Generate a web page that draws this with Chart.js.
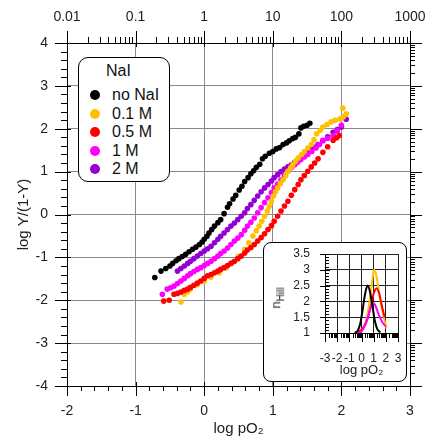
<!DOCTYPE html>
<html>
<head>
<meta charset="utf-8">
<script src="https://cdn.jsdelivr.net/npm/chart.js@4.4.0/dist/chart.umd.min.js"></script>
<style>
  body { margin: 0; background: #fff; font-family: "Liberation Sans", Arial, sans-serif; }
  #wrap { position: relative; width: 429px; height: 442px; }
  #main { position: absolute; left: 0; top: 0; }
  #legend { position: absolute; left: 78px; top: 57px; width: 92px; height: 125px; box-sizing: border-box;
            border: 1px solid #000; border-radius: 10px; background: #fff; color: #111; }
  #legend .ttl { position: absolute; left: 27px; top: 3px; font-size: 16px; line-height: 20px; }
  #legend .row { position: absolute; left: 0; height: 18px; line-height: 18px; font-size: 16px; white-space: nowrap; }
  #legend .dot { position: absolute; left: 11px; top: 4px; width: 10px; height: 10px; border-radius: 50%; }
  #legend .txt { position: absolute; left: 33px; top: 0; }
  #inset { position: absolute; left: 263px; top: 242px; width: 144px; height: 140px; box-sizing: border-box;
           border: 1px solid #000; border-radius: 8px; background: #fff; }
  #inset canvas { position: absolute; left: 0; top: 0; }
  #nhill { position: absolute; left: 13px; top: 55px; transform: translate(-50%, -50%) rotate(-90deg);
           font-size: 13px; white-space: nowrap; color: #222; }
  #nhill sub { font-size: 10px; }
</style>
</head>
<body>
<div id="wrap">
  <canvas id="main" width="429" height="442"></canvas>
  <div id="legend"></div>
  <div id="inset">
    <canvas id="small" width="142" height="138"></canvas>
    <div id="nhill">n<sub>Hill</sub></div>
  </div>
</div>
<script>
// series names / colours
var names = ["no NaI", "0.1 M", "0.5 M", "1 M", "2 M"];
var colors = ["#000000", "#FFC000", "#FF0000", "#FF00FF", "#9400D3"];

// log pO2 / log Y/(1-Y)
var noNaI_x = [-0.72, -0.63, -0.56, -0.50, -0.46, -0.41, -0.37, -0.32, -0.27, -0.22, -0.17, -0.12, -0.07, -0.03, 0.00, 0.04, 0.07, 0.11, 0.15, 0.20, 0.24, 0.29, 0.34, 0.37, 0.42, 0.46, 0.51, 0.55, 0.59, 0.64, 0.68, 0.72, 0.76, 0.81, 0.85, 0.89, 0.95, 1.00, 1.05, 1.10, 1.15, 1.20, 1.24, 1.29, 1.33, 1.38, 1.41, 1.45, 1.50, 1.54];
var noNaI_y = [-1.47, -1.32, -1.26, -1.20, -1.14, -1.08, -1.03, -0.98, -0.93, -0.87, -0.81, -0.76, -0.70, -0.64, -0.58, -0.51, -0.43, -0.35, -0.27, -0.19, -0.12, 0.02, 0.17, 0.25, 0.36, 0.45, 0.57, 0.66, 0.77, 0.86, 0.95, 1.02, 1.10, 1.17, 1.30, 1.36, 1.43, 1.47, 1.53, 1.56, 1.63, 1.67, 1.72, 1.77, 1.80, 1.88, 2.02, 2.06, 2.08, 2.13];

var m01_x = [-0.34, -0.29, -0.24, -0.20, -0.10, 0.00, 0.10, 0.22, 0.32, 0.41, 0.50, 0.59, 0.65, 0.71, 0.76, 0.80, 0.84, 0.88, 0.92, 0.95, 0.98, 1.01, 1.04, 1.07, 1.11, 1.15, 1.19, 1.22, 1.26, 1.29, 1.33, 1.37, 1.42, 1.46, 1.51, 1.56, 1.60, 1.64, 1.69, 1.73, 1.79, 1.85, 1.91, 1.98, 2.03, 2.07, 2.02];
var m01_y = [-2.04, -1.86, -1.80, -1.74, -1.64, -1.55, -1.46, -1.36, -1.25, -1.12, -0.98, -0.81, -0.66, -0.50, -0.38, -0.27, -0.16, -0.04, 0.08, 0.19, 0.31, 0.43, 0.53, 0.62, 0.72, 0.81, 0.91, 1.01, 1.09, 1.16, 1.24, 1.32, 1.40, 1.47, 1.55, 1.63, 1.74, 1.88, 1.96, 2.04, 2.10, 2.16, 2.20, 2.23, 2.28, 2.35, 2.48];

var m05_x = [-0.59, -0.51, -0.44, -0.39, -0.34, -0.29, -0.24, -0.20, -0.15, -0.10, -0.05, 0.00, 0.05, 0.10, 0.15, 0.20, 0.24, 0.29, 0.34, 0.39, 0.44, 0.49, 0.54, 0.59, 0.63, 0.68, 0.73, 0.78, 0.83, 0.88, 0.93, 0.98, 1.02, 1.07, 1.12, 1.17, 1.22, 1.27, 1.32, 1.37, 1.41, 1.46, 1.51, 1.56, 1.61, 1.66, 1.73, 1.80, 1.88, 1.93, 1.97];
var m05_y = [-2.02, -2.00, -1.86, -1.84, -1.81, -1.77, -1.74, -1.70, -1.65, -1.60, -1.55, -1.49, -1.43, -1.40, -1.36, -1.32, -1.28, -1.24, -1.19, -1.14, -1.09, -1.03, -0.97, -0.90, -0.83, -0.77, -0.70, -0.62, -0.54, -0.45, -0.35, -0.26, -0.16, -0.04, 0.08, 0.20, 0.31, 0.45, 0.58, 0.70, 0.81, 0.91, 1.01, 1.11, 1.20, 1.30, 1.45, 1.58, 1.73, 1.79, 1.84];

var m1_x = [-0.61, -0.54, -0.49, -0.44, -0.39, -0.34, -0.29, -0.24, -0.20, -0.15, -0.10, -0.05, 0.00, 0.05, 0.10, 0.15, 0.20, 0.24, 0.29, 0.34, 0.39, 0.44, 0.49, 0.54, 0.59, 0.63, 0.68, 0.73, 0.78, 0.83, 0.88, 0.93, 0.98, 1.02, 1.07, 1.12, 1.17, 1.22, 1.27, 1.32, 1.36, 1.41, 1.46, 1.51, 1.57, 1.63, 1.68, 1.73, 1.80, 1.88, 1.94, 2.00];
var m1_y = [-1.86, -1.74, -1.71, -1.67, -1.61, -1.55, -1.49, -1.43, -1.38, -1.33, -1.28, -1.24, -1.19, -1.14, -1.09, -1.03, -0.97, -0.91, -0.85, -0.78, -0.70, -0.62, -0.55, -0.47, -0.37, -0.27, -0.18, -0.08, 0.04, 0.16, 0.28, 0.39, 0.51, 0.62, 0.71, 0.81, 0.91, 1.01, 1.09, 1.16, 1.22, 1.28, 1.34, 1.40, 1.47, 1.55, 1.63, 1.73, 1.78, 1.84, 1.95, 2.08];

var m2_x = [-0.39, -0.34, -0.29, -0.24, -0.20, -0.15, -0.10, -0.05, 0.00, 0.05, 0.10, 0.15, 0.20, 0.24, 0.29, 0.34, 0.39, 0.44, 0.49, 0.54, 0.59, 0.63, 0.68, 0.73, 0.78, 0.83, 0.88, 0.93, 0.98, 1.02, 1.07, 1.12, 1.17, 1.22, 1.27, 1.32, 1.37, 1.41, 1.46, 1.51, 1.56, 1.61, 1.66, 1.73, 1.80, 1.88, 1.94, 2.00, 2.07];
var m2_y = [-1.32, -1.26, -1.20, -1.14, -1.09, -1.03, -0.97, -0.91, -0.85, -0.80, -0.74, -0.66, -0.58, -0.51, -0.43, -0.35, -0.27, -0.20, -0.12, -0.04, 0.04, 0.14, 0.23, 0.33, 0.43, 0.53, 0.62, 0.70, 0.78, 0.86, 0.93, 1.00, 1.06, 1.11, 1.16, 1.22, 1.28, 1.34, 1.40, 1.46, 1.51, 1.57, 1.63, 1.72, 1.81, 1.92, 1.98, 2.04, 2.22];

// inset: nHill vs log pO2
var hill_black_x = [-0.55, -0.30, -0.10, 0.10, 0.30, 0.50, 0.70, 0.90, 1.10, 1.30, 1.55];
var hill_black_y = [1.00, 1.08, 1.30, 1.75, 2.25, 2.50, 2.30, 1.85, 1.38, 1.12, 1.02];
var hill_orange_x = [-0.30, 0.00, 0.30, 0.50, 0.70, 0.90, 1.03, 1.20, 1.40, 1.60, 1.80, 2.05];
var hill_orange_y = [1.00, 1.08, 1.30, 1.60, 2.10, 2.70, 3.00, 2.85, 2.40, 1.95, 1.55, 1.15];
var hill_red_x = [-0.55, -0.20, 0.20, 0.50, 0.80, 1.00, 1.25, 1.45, 1.65, 1.90];
var hill_red_y = [1.00, 1.05, 1.20, 1.45, 1.90, 2.25, 2.42, 2.25, 1.90, 1.50];
var hill_magenta_x = [-0.40, 0.00, 0.30, 0.60, 0.90, 1.10, 1.40, 1.70, 2.00];
var hill_magenta_y = [1.00, 1.05, 1.25, 1.60, 1.95, 1.90, 1.60, 1.35, 1.20];

var bottomLabels = [-2, -1, 0, 1, 2, 3];
var topLabels = ["0.01", "0.1", "1", "10", "100", "1000"];
var leftLabels = [-4, -3, -2, -1, 0, 1, 2, 3, 4];
var hillLabels = [1, 1.5, 2, 2.5, 3, 3.5];

function pts(xs, ys) { return xs.map(function (x, i) { return { x: x, y: ys[i] }; }); }
function linMinors(a, b, step) {
  var out = [];
  for (var v = a; v <= b + 1e-9; v += step) {
    var r = Math.round(v * 10) / 10;
    if (Math.abs(r - Math.round(r)) > 1e-6) out.push(r);
  }
  return out;
}
function logMinors(a, b) {
  var out = [];
  for (var n = a; n < b; n++) for (var k = 2; k <= 9; k++) out.push(n + Math.log10(k));
  return out;
}
function ints(a, b) { var out = []; for (var i = a; i <= b; i++) out.push(i); return out; }
function fixTicks(list) { return function (s) { s.ticks = list.map(function (v) { return { value: v }; }); }; }

Chart.defaults.font.family = '"Liberation Sans", Arial, sans-serif';
Chart.defaults.color = '#222';

// small tick marks drawn at the axis edges through the scales
var tickMarks = {
  id: 'tickMarks',
  afterDraw: function (chart, args, opts) {
    var ctx = chart.ctx;
    ctx.save();
    ctx.strokeStyle = '#000';
    ctx.lineWidth = 1;
    (opts.sets || []).forEach(function (s) {
      var sc = chart.scales[s.axis];
      s.values.forEach(function (v) {
        var p = Math.round(sc.getPixelForValue(v)) + 0.5;
        ctx.beginPath();
        if (sc.isHorizontal()) {
          var top = sc.position === 'top';
          var y0 = top ? chart.chartArea.top : chart.chartArea.bottom;
          var d = top ? -1 : 1;
          ctx.moveTo(p, y0 - d * s.inner);
          ctx.lineTo(p, y0 + d * s.outer);
        } else {
          var left = sc.position === 'left';
          var x0 = left ? chart.chartArea.left : chart.chartArea.right;
          var e = left ? -1 : 1;
          ctx.moveTo(x0 - e * s.inner, p);
          ctx.lineTo(x0 + e * s.outer, p);
        }
        ctx.stroke();
      });
    });
    ctx.restore();
  }
};

// label gap is made with an invisible tick so the layout does not add it as side padding
function gap(n, color, onArea) {
  return { color: color, drawOnChartArea: onArea, drawTicks: true, tickLength: n, tickColor: 'rgba(0,0,0,0)', lineWidth: 1 };
}

var mainSeries = [
  [noNaI_x, noNaI_y, 0],
  [m05_x, m05_y, 2],
  [m01_x, m01_y, 1],
  [m1_x, m1_y, 3],
  [m2_x, m2_y, 4]
];

new Chart(document.getElementById('main'), {
  type: 'scatter',
  data: {
    datasets: mainSeries.map(function (s) {
      return {
        label: names[s[2]],
        data: pts(s[0], s[1]),
        backgroundColor: colors[s[2]],
        borderColor: colors[s[2]],
        pointRadius: 2.8,
        pointBorderWidth: 0,
        showLine: false
      };
    })
  },
  options: {
    responsive: false,
    animation: false,
    layout: { padding: 0 },
    plugins: {
      legend: { display: false },
      tooltip: { enabled: false },
      tickMarks: {
        sets: [
          { axis: 'x', values: bottomLabels, inner: 4, outer: 10 },
          { axis: 'x', values: linMinors(-2, 3, 0.2), inner: 0, outer: 5 },
          { axis: 'x2', values: ints(-2, 3), inner: 4, outer: 12 },
          { axis: 'x2', values: logMinors(-2, 3), inner: 0, outer: 6 },
          { axis: 'y', values: leftLabels, inner: 4, outer: 12 },
          { axis: 'y', values: linMinors(-4, 4, 0.2), inner: 0, outer: 6 },
          { axis: 'y2', values: ints(-4, 4), inner: 0, outer: 12 },
          { axis: 'y2', values: logMinors(-4, 4), inner: 0, outer: 5 }
        ]
      }
    },
    scales: {
      x: {
        type: 'linear', position: 'bottom', min: -2, max: 3,
        afterFit: function (s) { s.height = 56; },
        afterBuildTicks: fixTicks(bottomLabels),
        ticks: { padding: 0, autoSkip: false, maxRotation: 0, font: { size: 14 } },
        grid: gap(17, '#8a8a8a', true),
        border: { color: '#000', width: 1 },
        title: { display: true, text: 'log pO₂', font: { size: 15 }, padding: { top: 0, bottom: 4 } }
      },
      x2: {
        type: 'linear', position: 'top', min: -2, max: 3,
        afterFit: function (s) { s.height = 43; },
        afterBuildTicks: fixTicks(ints(-2, 3)),
        ticks: {
          padding: 0, autoSkip: false, maxRotation: 0, font: { size: 14 },
          callback: function (v) { return topLabels[Math.round(v) + 2]; }
        },
        grid: gap(17, '#8a8a8a', false),
        border: { color: '#000', width: 1 }
      },
      y: {
        type: 'linear', position: 'left', min: -4, max: 4,
        afterFit: function (s) { s.width = 67; },
        afterBuildTicks: fixTicks(leftLabels),
        ticks: { padding: 0, autoSkip: false, font: { size: 14 } },
        grid: gap(19, '#8a8a8a', true),
        border: { color: '#000', width: 1 },
        title: { display: true, text: 'log Y/(1-Y)', font: { size: 15 }, padding: { top: 15, bottom: 0 } }
      },
      y2: {
        type: 'linear', position: 'right', min: -4, max: 4,
        afterFit: function (s) { s.width = 19; },
        ticks: { display: false, stepSize: 1 },
        grid: { drawOnChartArea: false, drawTicks: false },
        border: { color: '#000', width: 1 }
      }
    }
  },
  plugins: [tickMarks]
});

// legend box
var lg = document.getElementById('legend');
var ttl = document.createElement('div');
ttl.className = 'ttl';
ttl.textContent = 'NaI';
lg.appendChild(ttl);
names.forEach(function (n, i) {
  var row = document.createElement('div');
  row.className = 'row';
  row.style.top = (28 + 18.5 * i) + 'px';
  row.style.width = '100%';
  var dot = document.createElement('span');
  dot.className = 'dot';
  dot.style.background = colors[i];
  var t = document.createElement('span');
  t.className = 'txt';
  t.textContent = n;
  row.appendChild(dot);
  row.appendChild(t);
  lg.appendChild(row);
});

// inset
var hill = [
  [hill_black_x, hill_black_y, 0],
  [hill_magenta_x, hill_magenta_y, 3],
  [hill_red_x, hill_red_y, 2],
  [hill_orange_x, hill_orange_y, 1]
];
new Chart(document.getElementById('small'), {
  type: 'line',
  data: {
    datasets: hill.map(function (s) {
      return {
        data: pts(s[0], s[1]),
        borderColor: colors[s[2]],
        borderWidth: 2,
        pointRadius: 0,
        cubicInterpolationMode: 'monotone',
        fill: false
      };
    })
  },
  options: {
    responsive: false,
    animation: false,
    layout: { padding: { top: 11, right: 8, left: 0, bottom: 0 } },
    plugins: {
      legend: { display: false },
      tooltip: { enabled: false },
      tickMarks: {
        sets: [
          { axis: 'x', values: ints(-3, 3), inner: 0, outer: 9 },
          { axis: 'x', values: logMinors(-3, 3), inner: 0, outer: 5 },
          { axis: 'y', values: hillLabels, inner: 5, outer: 5 },
          { axis: 'y', values: linMinors(1, 3.5, 0.1), inner: 4, outer: 0 }
        ]
      }
    },
    scales: {
      x: {
        type: 'linear', min: -3, max: 3,
        afterFit: function (s) { s.height = 48; },
        afterBuildTicks: fixTicks(ints(-3, 3)),
        ticks: { padding: 0, autoSkip: false, maxRotation: 0, font: { size: 12 } },
        grid: gap(18, '#222', true),
        border: { color: '#000' },
        title: { display: true, text: 'log pO₂', font: { size: 13 }, padding: { top: 0, bottom: 3 } }
      },
      y: {
        type: 'linear', min: 1, max: 3.5,
        afterFit: function (s) { s.width = 61; },
        afterBuildTicks: fixTicks(hillLabels),
        ticks: { padding: 0, autoSkip: false, font: { size: 12 }, callback: function (v) { return String(v); } },
        grid: gap(15, '#222', true),
        border: { color: '#000' }
      }
    }
  },
  plugins: [tickMarks]
});
</script>
</body>
</html>
